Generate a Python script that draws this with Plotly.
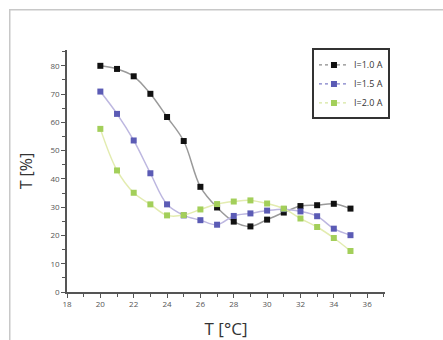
import plotly.graph_objects as go

temps = list(range(20, 36))
names = ["I=1.0 A", "I=1.5 A", "I=2.0 A"]
t_10 = [80.0, 78.9, 76.3, 70.1, 61.9, 53.4, 37.2, 29.9, 24.9, 23.2, 25.6, 28.1, 30.4, 30.7, 31.2, 29.5]
t_15 = [70.9, 63.0, 53.6, 42.0, 31.0, 27.1, 25.4, 23.8, 26.9, 27.8, 28.8, 29.3, 28.5, 26.8, 22.4, 20.1]
t_20 = [57.7, 43.0, 35.1, 31.0, 27.1, 27.2, 29.2, 31.1, 32.0, 32.4, 31.3, 29.5, 26.0, 23.0, 19.1, 14.5]
series = [t_10, t_15, t_20]
marker_colors = ["#111111", "#5b5bb5", "#a3cf5a"]
line_colors = ["#9a9a9a", "#bdb7e0", "#e3ecb0"]
legend_line_colors = ["#8a8a8a", "#7f7fc8", "#d6e6a0"]

fig = go.Figure()
for name, vals, mc, lc in zip(names, series, marker_colors, line_colors):
    fig.add_trace(go.Scatter(
        x=temps, y=vals, name=name, mode="lines+markers", showlegend=False,
        line=dict(color=lc, width=1.5, shape="spline"),
        marker=dict(color=mc, size=6, symbol="square", line=dict(width=0)),
    ))
# legend entries (dotted line + symbol, as in the original legend)
for name, mc, llc in zip(names, marker_colors, legend_line_colors):
    fig.add_trace(go.Scatter(
        x=[None], y=[None], name=name, mode="lines+markers",
        line=dict(color=llc, width=1.2, dash="dot"),
        marker=dict(color=mc, size=6, symbol="square", line=dict(width=0)),
    ))

axis_common = dict(
    showline=True, linecolor="#555555", linewidth=1.5, mirror=False,
    ticks="outside", ticklen=4, tickwidth=1.2, tickcolor="#555555",
    showgrid=False, zeroline=False,
    tickfont=dict(size=8, color="#555555", family="Open Sans"),
)

fig.update_layout(
    width=443, height=340,
    margin=dict(l=67, r=58, t=50, b=48),
    paper_bgcolor="white", plot_bgcolor="white",
    font=dict(family="Open Sans", color="#333333"),
    xaxis=dict(range=[18, 37.07], dtick=2, tick0=18,
               minor=dict(dtick=1, ticks="outside", ticklen=3, tickcolor="#555555"),
               title=dict(text="T [°C]", font=dict(size=17, color="#333333"), standoff=23),
               automargin=False,
               **axis_common),
    yaxis=dict(range=[0, 85.6], dtick=10, tick0=0,
               minor=dict(dtick=5, ticks="outside", ticklen=3, tickcolor="#555555"),
               title=dict(text="T [%]", font=dict(size=16, color="#333333"), standoff=14),
               **axis_common),
    legend=dict(x=0.893, y=0.86, xanchor="center", yanchor="middle",
                bordercolor="#333333", borderwidth=2, bgcolor="white",
                font=dict(size=9, color="#333333"),
                itemwidth=30, tracegroupgap=0),
    showlegend=True,
    shapes=[dict(type="rect", xref="paper", yref="paper",
                 x0=-0.18, y0=-0.4, x1=1.4, y1=1.166,
                 line=dict(color="#c8c8c8", width=1.5), layer="below")],
)

fig.write_html("out.html", config={"displayModeBar": False},
               post_script="document.body.style.margin='0';")
